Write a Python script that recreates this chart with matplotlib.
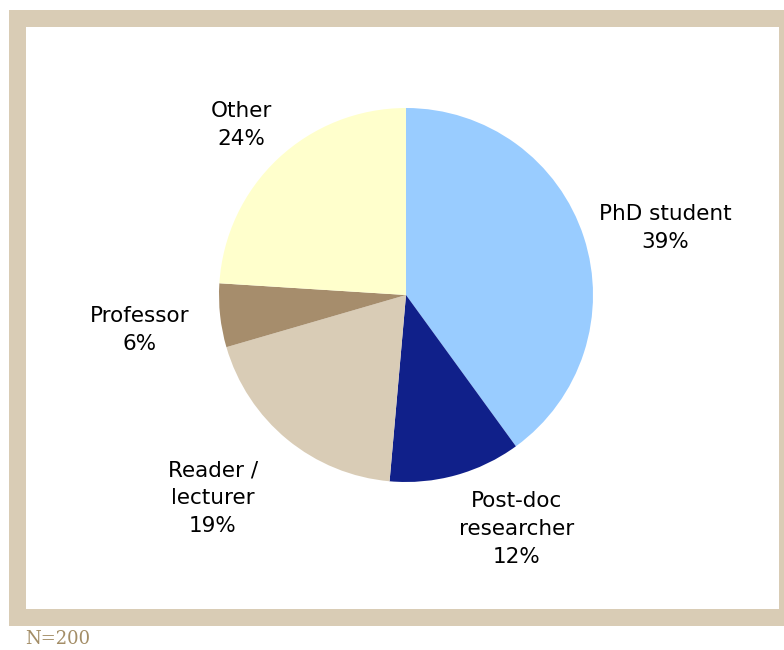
import matplotlib
matplotlib.use("Agg")
import matplotlib.pyplot as plt
from matplotlib.patches import Rectangle
import numpy as np

# ---- data ----
categories = ["PhD student", "Post-doc\nresearcher", "Reader /\nlecturer", "Professor", "Other"]
values = [40.0, 11.4, 19.1, 5.5, 24.0]          # slice sizes
pct_labels = ["39%", "12%", "19%", "6%", "24%"]  # printed percentages
colors = ["#99CCFF", "#10208A", "#D9CCB6", "#A68D6C", "#FFFFCC"]
note = "N=200"

W, H = 784, 650
fig = plt.figure(figsize=(W / 100, H / 100), dpi=100)
fig.patch.set_facecolor("white")

# frame (pixel coords, top-left origin converted)
def px_rect(x0, y0, x1, y1, color, z):
    fig.patches.append(Rectangle((x0 / W, 1 - y1 / H), (x1 - x0) / W, (y1 - y0) / H,
                                 transform=fig.transFigure, facecolor=color,
                                 edgecolor="none", zorder=z))

px_rect(9, 10, 790, 626, "#D9CCB5", 0)
px_rect(26, 27, 778.5, 609, "white", 1)

ax = fig.add_axes([0, 0, 1, 1])
ax.set_zorder(2)
ax.patch.set_alpha(0)

cx, cy, R = 406, H - 295, 187
wedges, _ = ax.pie(values, colors=colors, startangle=90, counterclock=False,
                   center=(cx, cy), radius=R,
                   wedgeprops=dict(linewidth=0))
ax.set_xlim(0, W)
ax.set_ylim(0, H)
ax.set_aspect("equal")
ax.axis("off")

# label positions (pixel, top-left origin)
label_pos = [(665, 228), (517, 529), (213, 498), (140, 330), (241, 125)]
for cat, pct, (lx, ly) in zip(categories, pct_labels, label_pos):
    ax.text(lx, H - ly, f"{cat}\n{pct}", ha="center", va="center",
            fontsize=15.5, family="DejaVu Sans", color="black", linespacing=1.5)

fig.text(25 / W, 1 - 639 / H, note, ha="left", va="center",
         fontsize=13, family="DejaVu Serif", color="#A38D66")

fig.savefig("out.png", dpi=100)
